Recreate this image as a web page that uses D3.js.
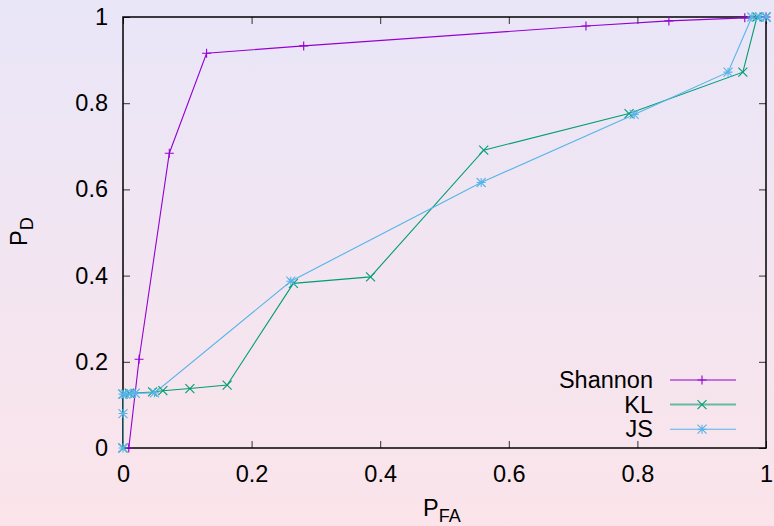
<!DOCTYPE html>
<html>
<head>
<meta charset="utf-8">
<script src="https://d3js.org/d3.v7.min.js"></script>
<style>
  body { margin: 0; }
  svg text { font-family: "Liberation Sans", Arial, sans-serif; fill: #000; }
</style>
</head>
<body>
<svg width="774" height="526"></svg>
<script>
// ROC curves
var shannonX = [0.009, 0.025, 0.072, 0.130, 0.281, 0.720, 0.849, 0.967, 1.0];
var shannonY = [0.0, 0.206, 0.684, 0.916, 0.933, 0.979, 0.991, 0.998, 1.0];

var klX = [0.0, 0.0, 0.010, 0.046, 0.062, 0.104, 0.162, 0.265, 0.385, 0.561, 0.787, 0.964, 0.986, 1.0];
var klY = [0.0, 0.125, 0.127, 0.130, 0.133, 0.138, 0.146, 0.382, 0.397, 0.691, 0.776, 0.872, 1.0, 1.0];

var jsX = [0.0, 0.0, 0.0, 0.004, 0.012, 0.019, 0.049, 0.261, 0.557, 0.795, 0.941, 0.978, 0.99, 1.0];
var jsY = [0.0, 0.08, 0.125, 0.125, 0.126, 0.127, 0.128, 0.387, 0.616, 0.774, 0.872, 1.0, 1.0, 1.0];

var xTicks = [0, 0.2, 0.4, 0.6, 0.8, 1];
var yTicks = [0, 0.2, 0.4, 0.6, 0.8, 1];

var series = [
  { name: "Shannon", x: shannonX, y: shannonY, color: "#9400d3", mark: "plus" },
  { name: "KL", x: klX, y: klY, color: "#009e73", mark: "cross" },
  { name: "JS", x: jsX, y: jsY, color: "#56b4e9", mark: "star" }
];

var svg = d3.select("svg");
var pLeft = 123, pRight = 766, pTop = 17, pBottom = 448;
var fs = 23.5;

// background gradient
var defs = svg.append("defs");
var grad = defs.append("linearGradient")
    .attr("id", "bg").attr("x1", 0).attr("y1", 0).attr("x2", 0).attr("y2", 1);
grad.append("stop").attr("offset", "0%").attr("stop-color", "#e9e6f8");
grad.append("stop").attr("offset", "100%").attr("stop-color", "#fbe4ea");
svg.append("rect").attr("width", 774).attr("height", 526).attr("fill", "url(#bg)");

var x = d3.scaleLinear().domain([0, 1]).range([pLeft, pRight]);
var y = d3.scaleLinear().domain([0, 1]).range([pBottom, pTop]);

defs.append("clipPath").attr("id", "clip")
  .append("rect").attr("x", pLeft).attr("y", pTop)
  .attr("width", pRight - pLeft).attr("height", pBottom - pTop);

// axes with inward ticks, mirrored on all sides
var fmt = function(d) { return d3.format("")(d); };
var gx = svg.append("g").attr("transform", "translate(0," + pBottom + ")")
  .call(d3.axisBottom(x).tickValues(xTicks).tickFormat(fmt).tickSizeInner(-7).tickSizeOuter(0));
var gy = svg.append("g").attr("transform", "translate(" + pLeft + ",0)")
  .call(d3.axisLeft(y).tickValues(yTicks).tickFormat(fmt).tickSizeInner(-7).tickSizeOuter(0).tickPadding(15));
svg.append("g").attr("transform", "translate(0," + pTop + ")")
  .call(d3.axisTop(x).tickValues(xTicks).tickFormat("").tickSizeInner(-7).tickSizeOuter(0));
svg.append("g").attr("transform", "translate(" + pRight + ",0)")
  .call(d3.axisRight(y).tickValues(yTicks).tickFormat("").tickSizeInner(-7).tickSizeOuter(0));

svg.selectAll(".domain").remove();
svg.selectAll(".tick line").attr("stroke", "#333").attr("stroke-width", 1);
svg.selectAll(".tick text").attr("font-size", fs).attr("fill", "#000")
  .style("font-family", "'Liberation Sans', Arial, sans-serif");
gx.selectAll(".tick text").attr("dy", "0.71em").attr("y", 17);

svg.append("rect").attr("x", pLeft).attr("y", pTop)
  .attr("width", pRight - pLeft).attr("height", pBottom - pTop)
  .attr("fill", "none").attr("stroke", "#000").attr("stroke-width", 1.5);

// markers
function markPath(kind, s) {
  var p = "M" + (-s) + ",0H" + s + "M0," + (-s) + "V" + s;
  var c = "M" + (-s) + "," + (-s) + "L" + s + "," + s + "M" + (-s) + "," + s + "L" + s + "," + (-s);
  if (kind === "plus") return p;
  if (kind === "cross") return c;
  return p + c;
}

var plot = svg.append("g").attr("clip-path", "url(#clip)");
var line = d3.line().x(function(d) { return x(d[0]); }).y(function(d) { return y(d[1]); });

series.forEach(function(s) {
  var pts = s.x.map(function(v, i) { return [v, s.y[i]]; });
  plot.append("path").datum(pts).attr("d", line)
    .attr("fill", "none").attr("stroke", s.color).attr("stroke-width", 1.1);
  svg.selectAll(".m-" + s.mark).data(pts).enter().append("path")
    .attr("class", "m-" + s.mark)
    .attr("transform", function(d) { return "translate(" + x(d[0]) + "," + y(d[1]) + ")"; })
    .attr("d", markPath(s.mark, 4.5))
    .attr("fill", "none").attr("stroke", s.color).attr("stroke-width", 1.1);
});

// legend
var leg = svg.append("g");
series.forEach(function(s, i) {
  var ly = 380 + i * 24.6;
  leg.append("text").attr("x", 653).attr("y", ly).attr("dy", "0.35em")
    .attr("text-anchor", "end").attr("font-size", fs).text(s.name);
  leg.append("line").attr("x1", 670).attr("x2", 736).attr("y1", ly).attr("y2", ly)
    .attr("stroke", s.color).attr("stroke-width", s.name === "KL" ? 2 : 1.1)
    .attr("stroke-opacity", s.name === "KL" ? 0.6 : 1);
  leg.append("path").attr("transform", "translate(702," + ly + ")")
    .attr("d", markPath(s.mark, 4.5))
    .attr("fill", "none").attr("stroke", s.color).attr("stroke-width", 1.1);
});

// axis titles
var xt = svg.append("text").attr("x", 423).attr("y", 516).attr("font-size", fs);
xt.append("tspan").text("P");
xt.append("tspan").attr("font-size", 18).attr("dy", 6).text("FA");

var yt = svg.append("text").attr("transform", "translate(27,246) rotate(-90)").attr("font-size", fs);
yt.append("tspan").text("P");
yt.append("tspan").attr("font-size", 18).attr("dy", 6).text("D");
</script>
</body>
</html>
